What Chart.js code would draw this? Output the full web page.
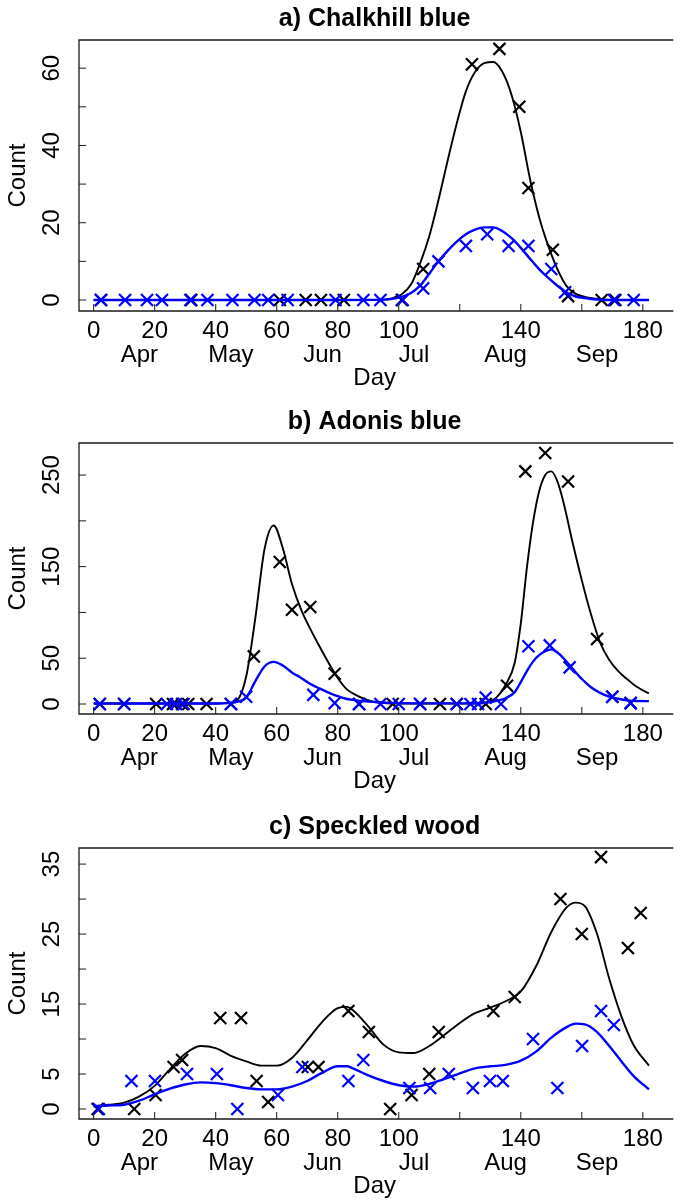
<!DOCTYPE html>
<html>
<head>
<meta charset="utf-8">
<script src="https://cdn.jsdelivr.net/npm/chart.js@4.4.1/dist/chart.umd.min.js"></script>
<style>
  body { margin: 0; background: #fff; overflow: hidden; }
  .panel { position: absolute; left: 0; width: 681px; height: 401px; }
</style>
</head>
<body>
<div class="panel" style="top:0px"><canvas id="chartA" width="681" height="401"></canvas></div>
<div class="panel" style="top:403px"><canvas id="chartB" width="681" height="401"></canvas></div>
<div class="panel" style="top:808px"><canvas id="chartC" width="681" height="401"></canvas></div>
<script>
// Shared x axis: day of season, with month names underneath
const dayTicks = [0, 20, 40, 60, 80, 100, 120, 140, 160, 180];
const dayTickLabels = ['0', '20', '40', '60', '80', '100', '', '140', '', '180'];
const monthDays = [15, 45, 75, 105, 135, 165];
const monthNames = ['Apr', 'May', 'Jun', 'Jul', 'Aug', 'Sep'];

// a) Chalkhill blue
const chalkYTicks = [0, 10, 20, 30, 40, 50, 60];
const chalkYLabels = ['0', '', '20', '', '40', '', '60'];
const chalkBlackDays = [2.4, 32, 61, 69.5, 74.5, 82, 101, 108, 124, 133, 139.5, 142.5, 150.5, 155.5, 166.5, 171];
const chalkBlackCounts = [0, 0, 0, 0, 0, 0, 0, 8, 61, 65, 50, 29, 13, 1, 0, 0];
const chalkBlueDays = [2.4, 10.3, 17.5, 22.4, 31.7, 37.3, 45.5, 52.7, 57.2, 63.6, 79.3, 88.4, 94, 101.3, 108, 113, 122, 129, 136, 142.5, 150, 154.5, 170.5, 177];
const chalkBlueCounts = [0, 0, 0, 0, 0, 0, 0, 0, 0, 0, 0, 0, 0, 0, 3, 10, 14, 17, 14, 14, 8, 2, 0, 0];
const chalkFitDays = [0, 20, 40, 60, 80, 95, 98, 101, 104, 107, 110, 113, 116, 119, 122, 125, 128, 131, 134, 137, 140, 143, 146, 149, 152, 155, 158, 161, 164, 168, 172, 176, 182];
const chalkFitBlack = [0, 0, 0, 0, 0, 0.1, 0.5, 1.5, 4, 9.5, 16.5, 25.8, 36, 45.7, 54, 59, 61.3, 61.6, 59, 53, 43.5, 31.4, 21.5, 14, 8, 3.6, 1.6, 0.8, 0.4, 0.1, 0, 0, 0];
const chalkFitBlue = [0, 0, 0, 0, 0, 0.1, 0.3, 0.8, 1.8, 3.7, 6.8, 10, 12.7, 15.1, 17, 18.2, 18.8, 18.8, 17.8, 16, 13.5, 10.7, 8, 5.7, 3.7, 2, 0.9, 0.5, 0.2, 0, 0, 0, 0];

// b) Adonis blue
const adonisYTicks = [0, 50, 100, 150, 200, 250];
const adonisYLabels = ['0', '50', '', '150', '', '250'];
const adonisBlackDays = [2, 10, 20.5, 26, 29, 31, 37, 45, 52.5, 61, 65, 71, 79, 87, 98, 107, 113.5, 119, 128.5, 135.5, 141.5, 148, 155.5, 165, 170, 176];
const adonisBlackCounts = [0, 0, 0, 0, 0, 0, 0, 0, 52, 155, 103, 106, 33, 0, 0, 0, 0, 0, 0, 20, 254, 274, 243, 71, 8, 1];
const adonisBlueDays = [2, 10, 24, 27, 29.5, 45, 50, 72, 79, 87, 94, 100, 107, 119, 123.5, 126, 128.5, 133.5, 142.5, 149.5, 156, 170, 176];
const adonisBlueCounts = [0, 0, 0, 0, 0, 0, 8, 10, 1, 0, 0, 0, 0, 0, 0, 0, 7, 0, 63, 64, 40, 8, 1];
const adonisFitDays = [0, 20, 40, 44, 47, 50, 53, 56, 59, 62, 65, 68, 71, 74, 77, 80, 83, 86, 89, 92, 96, 100, 110, 120, 126, 129, 132, 135, 138, 140, 142, 144, 146, 148, 150, 152, 154, 157, 160, 163, 166, 169, 172, 175, 178, 182];
const adonisFitBlack = [0.5, 0.5, 0.5, 1, 4, 30, 94, 169, 195, 170, 131, 103, 82, 63, 45, 28.5, 16, 9.7, 5.2, 2, 0.8, 0.5, 0.5, 0.5, 0.6, 2, 7, 20.7, 45, 88, 149, 198, 232, 250, 254, 243, 220, 176, 135, 98, 67, 48, 35.6, 26.8, 18.8, 11.5];
const adonisFitBlue = [0.5, 0.5, 0.5, 1, 2.5, 7, 25, 41, 46, 42, 34.5, 28.5, 22, 17, 12.5, 8.5, 5.5, 4, 3, 2.3, 1.5, 1, 0.7, 0.7, 0.8, 1.5, 3.5, 6.2, 13, 24, 36, 46.3, 53.3, 57.6, 59.7, 56.2, 50, 38.4, 27.3, 18.3, 12.2, 8.1, 5.7, 4, 3.3, 3.2];

// c) Speckled wood
const speckYTicks = [0, 5, 10, 15, 20, 25, 30, 35];
const speckYLabels = ['0', '5', '', '15', '', '25', '', '35'];
const speckBlackDays = [1.3, 13.3, 20.3, 26.2, 29, 41.5, 48.3, 53.4, 57.2, 70.2, 73.7, 83.5, 90.2, 97.2, 104.2, 110, 113.1, 131, 138, 153, 160, 166.3, 175.1, 179.3];
const speckBlackCounts = [0, 0, 2, 6, 7, 13, 13, 4, 1, 6, 6, 14, 11, 0, 2, 5, 11, 14, 16, 30, 25, 36, 23, 28];
const speckBlueDays = [1.7, 12.4, 20.1, 30.6, 40.4, 47.1, 60.4, 68.4, 83.5, 88.4, 103.5, 110.3, 116.4, 124.3, 129.9, 134.1, 144, 152, 160.1, 166.3, 170.5];
const speckBlueCounts = [0, 4, 4, 5, 5, 0, 2, 6, 4, 7, 3, 3, 5, 3, 4, 4, 10, 3, 9, 14, 12];
const speckFitDays = [0, 5, 10, 15, 20, 25, 30, 35, 40, 45, 50, 55, 60, 65, 70, 75, 80, 83, 85, 90, 95, 100, 105, 110, 115, 120, 125, 130, 135, 140, 145, 150, 155, 158, 161, 165, 169, 173, 177, 182];
const speckFitBlack = [0.4, 0.6, 0.9, 1.8, 3.3, 5.7, 7.9, 9, 8.7, 7.6, 6.8, 6.2, 6.2, 7.3, 9.8, 12.5, 14.4, 14.6, 14.1, 11.8, 9.2, 8.1, 8, 9, 10.6, 12.3, 13.7, 14.5, 15.4, 16.8, 20.4, 25.3, 28.8, 29.5, 29, 25, 18.6, 13.2, 9.1, 6.2];
const speckFitBlue = [0.4, 0.5, 0.6, 1.2, 2.1, 2.9, 3.5, 3.8, 3.7, 3.4, 3, 2.8, 2.8, 3.2, 4, 5.2, 6.1, 6.1, 5.8, 4.8, 4, 3.4, 3.2, 3.6, 4.3, 5.1, 5.8, 6.1, 6.3, 6.9, 8.2, 10.2, 11.7, 12.2, 12.1, 11, 9, 6.8, 4.7, 2.8];

const FONT = '"Liberation Sans", Arial, sans-serif';
Chart.defaults.font.family = FONT;
Chart.defaults.color = '#000';

const toPoints = (xs, ys) => xs.map((x, i) => ({ x: x, y: ys[i] }));

// Draw the R-style box, inward tick marks and rotated y labels
const framePlugin = {
  id: 'frame',
  afterDatasetsDraw(chart) {
    const { ctx, chartArea: area, scales: { x, y } } = chart;
    ctx.save();
    ctx.strokeStyle = '#1a1a1a';
    ctx.lineWidth = 1.3;
    ctx.beginPath();
    ctx.moveTo(area.right + 3, area.top);
    ctx.lineTo(area.left, area.top);
    ctx.lineTo(area.left, area.bottom);
    ctx.lineTo(area.right + 3, area.bottom);
    ctx.stroke();

    ctx.lineWidth = 1;
    ctx.beginPath();
    x.ticks.forEach(t => {
      const px = x.getPixelForValue(t.value);
      ctx.moveTo(px, area.bottom);
      ctx.lineTo(px, area.bottom - 7);
    });
    y.ticks.forEach(t => {
      const py = y.getPixelForValue(t.value);
      ctx.moveTo(area.left, py);
      ctx.lineTo(area.left + 7, py);
    });
    ctx.stroke();

    ctx.fillStyle = '#000';
    ctx.font = '24px ' + FONT;
    ctx.textAlign = 'center';
    ctx.textBaseline = 'middle';
    y.ticks.forEach(t => {
      if (!t.label) return;
      ctx.save();
      ctx.translate(area.left - 27, y.getPixelForValue(t.value));
      ctx.rotate(-Math.PI / 2);
      ctx.fillText(t.label, 0, 0);
      ctx.restore();
    });
    ctx.restore();
  }
};

const makeChart = (id, cfg) => {
  const crosses = (days, counts, color, order) => ({
    data: toPoints(days, counts),
    showLine: false,
    pointStyle: 'crossRot',
    pointRadius: 8.5,
    pointBorderWidth: 2.2,
    borderColor: color,
    backgroundColor: color,
    order: order
  });
  const curve = (days, values, color, width, order) => ({
    data: toPoints(days, values),
    showLine: true,
    pointRadius: 0,
    borderColor: color,
    borderWidth: width,
    cubicInterpolationMode: 'monotone',
    order: order
  });

  return new Chart(document.getElementById(id), {
    type: 'scatter',
    data: {
      datasets: [
        curve(cfg.fitDays, cfg.fitBlue, '#0000ff', 2.4, 0),
        crosses(cfg.blueDays, cfg.blueCounts, '#0000ff', 1),
        curve(cfg.fitDays, cfg.fitBlack, '#000000', 1.9, 2),
        crosses(cfg.blackDays, cfg.blackCounts, '#000000', 3)
      ]
    },
    options: {
      responsive: false,
      animation: false,
      events: [],
      layout: { padding: { top: 0, left: 0, right: 0, bottom: 8.6 } },
      plugins: {
        legend: { display: false },
        tooltip: { enabled: false },
        title: {
          display: true,
          text: cfg.title,
          fullSize: false,
          font: { size: 25, weight: 'bold' },
          padding: { top: 4.5, bottom: 5.5 }
        }
      },
      scales: {
        x: {
          type: 'linear',
          position: 'bottom',
          weight: 0,
          min: -4.8,
          max: 189,
          afterBuildTicks: scale => { scale.ticks = dayTicks.map(v => ({ value: v })); },
          afterFit: scale => { scale.height = 32; },
          grid: { display: false, drawTicks: false },
          border: { display: false },
          ticks: {
            autoSkip: false,
            maxRotation: 0,
            minRotation: 0,
            padding: 5.6,
            font: { size: 24 },
            callback: (v, i) => dayTickLabels[i]
          }
        },
        m: {
          type: 'linear',
          axis: 'x',
          position: 'bottom',
          weight: 1,
          min: -4.8,
          max: 189,
          afterBuildTicks: scale => { scale.ticks = monthDays.map(v => ({ value: v })); },
          afterFit: scale => { scale.height = 49.4; },
          grid: { display: false, drawTicks: false },
          border: { display: false },
          ticks: {
            autoSkip: false,
            maxRotation: 0,
            minRotation: 0,
            padding: -2.4,
            font: { size: 24 },
            callback: (v, i) => monthNames[i]
          },
          title: { display: true, text: 'Day', font: { size: 24 }, padding: { top: 0, bottom: 0 } }
        },
        y: {
          type: 'linear',
          min: cfg.yMin,
          max: cfg.yMax,
          afterBuildTicks: scale => { scale.ticks = cfg.yTicks.map(v => ({ value: v })); },
          afterFit: scale => { scale.width = 79; },
          grid: { display: false, drawTicks: false },
          border: { display: false },
          ticks: { display: false, callback: (v, i) => cfg.yLabels[i] },
          title: { display: true, text: 'Count', font: { size: 24 }, padding: { top: 3.9, bottom: 0 } }
        }
      }
    },
    plugins: [framePlugin]
  });
};

makeChart('chartA', {
  title: 'a) Chalkhill blue',
  yMin: -2.85, yMax: 67.3,
  yTicks: chalkYTicks, yLabels: chalkYLabels,
  blackDays: chalkBlackDays, blackCounts: chalkBlackCounts,
  blueDays: chalkBlueDays, blueCounts: chalkBlueCounts,
  fitDays: chalkFitDays, fitBlack: chalkFitBlack, fitBlue: chalkFitBlue
});

makeChart('chartB', {
  title: 'b) Adonis blue',
  yMin: -10.9, yMax: 285,
  yTicks: adonisYTicks, yLabels: adonisYLabels,
  blackDays: adonisBlackDays, blackCounts: adonisBlackCounts,
  blueDays: adonisBlueDays, blueCounts: adonisBlueCounts,
  fitDays: adonisFitDays, fitBlack: adonisFitBlack, fitBlue: adonisFitBlue
});

makeChart('chartC', {
  title: 'c) Speckled wood',
  yMin: -1.43, yMax: 37.3,
  yTicks: speckYTicks, yLabels: speckYLabels,
  blackDays: speckBlackDays, blackCounts: speckBlackCounts,
  blueDays: speckBlueDays, blueCounts: speckBlueCounts,
  fitDays: speckFitDays, fitBlack: speckFitBlack, fitBlue: speckFitBlue
});
</script>
</body>
</html>
